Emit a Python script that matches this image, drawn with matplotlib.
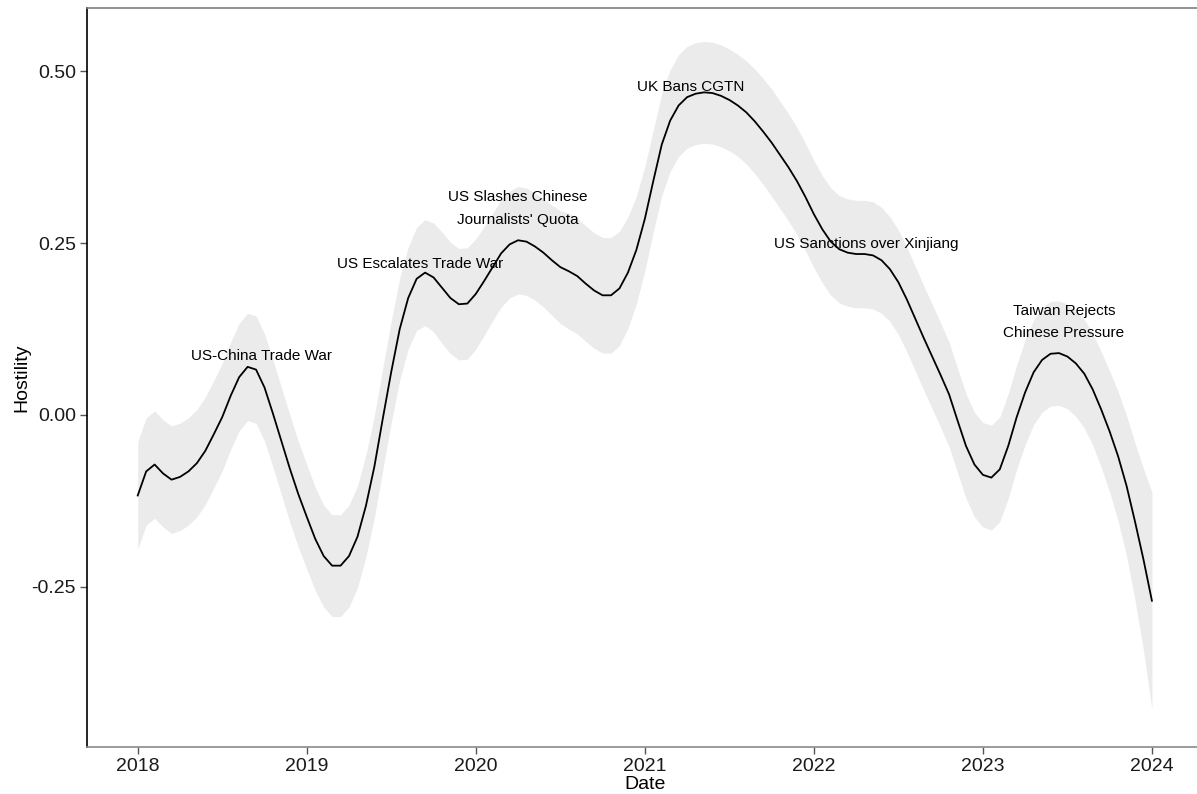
import matplotlib.pyplot as plt
import numpy as np

plt.rcParams["font.family"] = ["Liberation Sans", "DejaVu Sans"]

# smoothed hostility estimate, every 0.05 year (2018.00 .. 2024.00)
years = [2018.0 + 0.05 * k for k in range(121)]
hostility = [
    -0.117, -0.082, -0.072, -0.085, -0.094, -0.090, -0.082, -0.070, -0.052, -0.028,
    -0.003, 0.028, 0.055, 0.070, 0.066, 0.040, 0.002, -0.038, -0.078, -0.115,
    -0.148, -0.180, -0.205, -0.219, -0.219, -0.205, -0.177, -0.132, -0.075, -0.005,
    0.063, 0.125, 0.170, 0.198, 0.207, 0.200, 0.185, 0.170, 0.161, 0.162,
    0.176, 0.195, 0.215, 0.235, 0.248, 0.254, 0.252, 0.245, 0.236, 0.225,
    0.215, 0.209, 0.202, 0.191, 0.181, 0.174, 0.174, 0.184, 0.207, 0.240,
    0.285, 0.340, 0.393, 0.428, 0.450, 0.462, 0.467, 0.469, 0.468, 0.464,
    0.458, 0.450, 0.440, 0.427, 0.412, 0.396, 0.378, 0.360, 0.340, 0.317,
    0.292, 0.270, 0.252, 0.241, 0.236, 0.234, 0.234, 0.232, 0.225, 0.212,
    0.193, 0.168, 0.140, 0.112, 0.085, 0.058, 0.030, -0.008, -0.045, -0.072,
    -0.087, -0.091, -0.079, -0.045, -0.003, 0.033, 0.062, 0.080, 0.089, 0.090,
    0.085, 0.075, 0.060, 0.037, 0.008, -0.024, -0.060, -0.103, -0.155, -0.210,
    -0.270,
]
# half-width of the grey confidence band at the same dates
band_half = [
    0.078, 0.078, 0.078, 0.078, 0.078, 0.078, 0.078, 0.078, 0.078, 0.078,
    0.078, 0.078, 0.078, 0.078, 0.078, 0.078, 0.078, 0.078, 0.078, 0.077,
    0.076, 0.075, 0.074, 0.074, 0.074, 0.074, 0.074, 0.074, 0.074, 0.074,
    0.074, 0.074, 0.074, 0.075, 0.077, 0.079, 0.081, 0.081, 0.081, 0.081,
    0.080, 0.079, 0.078, 0.078, 0.078, 0.078, 0.078, 0.078, 0.079, 0.080,
    0.082, 0.084, 0.084, 0.084, 0.084, 0.084, 0.084, 0.083, 0.081, 0.078,
    0.076, 0.074, 0.074, 0.074, 0.074, 0.074, 0.074, 0.074, 0.074, 0.074,
    0.074, 0.074, 0.075, 0.076, 0.077, 0.078, 0.078, 0.078, 0.078, 0.078,
    0.078, 0.078, 0.078, 0.078, 0.078, 0.078, 0.078, 0.078, 0.077, 0.076,
    0.076, 0.076, 0.076, 0.076, 0.076, 0.076, 0.076, 0.076, 0.076, 0.076,
    0.076, 0.076, 0.076, 0.076, 0.076, 0.076, 0.076, 0.076, 0.076, 0.076,
    0.076, 0.077, 0.079, 0.081, 0.084, 0.088, 0.094, 0.102, 0.114, 0.132,
    0.158,
]

# events and where their labels sit
event_labels = [
    "US-China Trade War",
    "US Escalates Trade War",
    "US Slashes Chinese\nJournalists' Quota",
    "UK Bans CGTN",
    "US Sanctions over Xinjiang",
    "Taiwan Rejects\nChinese Pressure",
]
event_x = [2018.73, 2019.67, 2020.25, 2021.27, 2022.31, 2023.48]
event_y = [0.086, 0.219, 0.300, 0.477, 0.248, 0.135]

year_ticks = [2018, 2019, 2020, 2021, 2022, 2023, 2024]
hostility_ticks = [-0.25, 0.0, 0.25, 0.5]

fit = np.array(hostility)
half = np.array(band_half)

fig = plt.figure(figsize=(11.97, 7.94), dpi=100)
ax = fig.add_axes([0.0727, 0.0592, 0.932, 0.9307])

ax.fill_between(years, fit - half, fit + half, color="#ebebeb", linewidth=0, zorder=1)
ax.plot(years, fit, color="black", linewidth=1.3, zorder=3)

for label, x, y in zip(event_labels, event_x, event_y):
    ax.text(x, y, label, ha="center", va="center", fontsize=11,
            color="black", linespacing=1.75, zorder=4)

ax.set_xlim(2017.7, 2024.3)
ax.set_ylim(-0.4826, 0.5916)
ax.set_xticks(year_ticks)
ax.set_xticklabels([str(y) for y in year_ticks])
ax.set_yticks(hostility_ticks)
ax.set_yticklabels(["-0.25", "0.00", "0.25", "0.50"])
ax.tick_params(axis="both", labelsize=14, length=5, width=1, color="#555555",
               labelcolor="#1a1a1a", pad=3)

ax.set_xlabel("Date", fontsize=14, labelpad=1)
ax.set_ylabel("Hostility", fontsize=14, labelpad=1)

ax.spines["right"].set_visible(False)
ax.spines["left"].set_color("black")
ax.spines["top"].set_color("#7f7f7f")
ax.spines["bottom"].set_color("#8a8a8a")
for s in ax.spines.values():
    s.set_linewidth(1.2)

fig.savefig("out.png", dpi=100)
